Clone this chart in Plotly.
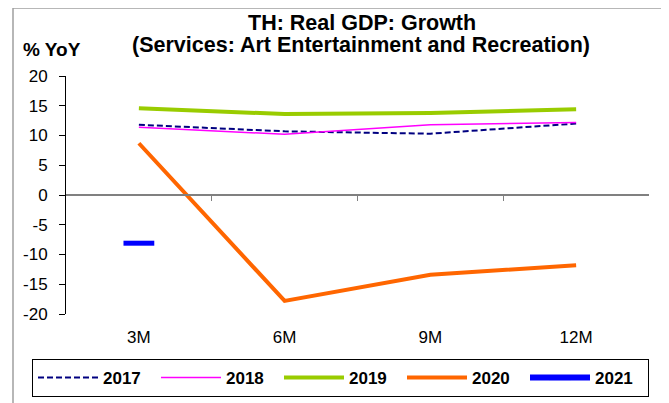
import plotly.graph_objects as go

categories = ["3M", "6M", "9M", "12M"]
y2017 = [11.8, 10.7, 10.3, 12.0]
y2018 = [11.4, 10.2, 11.8, 12.2]
y2019 = [14.6, 13.6, 13.8, 14.4]
y2020 = [8.7, -17.8, -13.4, -11.8]
cat2021 = ["3M"]
y2021 = [-8.1]
yticks = [20, 15, 10, 5, 0, -5, -10, -15, -20]
ytext = ["20", "15", "10", "5", "0", "-5", "-10", "-15", "-20"]

# page body has an 8px default margin; size the figure to fit the window
O = 8
W, H = 669 - O, 403 - O
PL, PR, PT, PB = 66, 649, 76, 314  # plot area in window pixels
L, T = PL - O, PT - O
R, B = W - (PR - O), H - (PB - O)
pw, ph = PR - PL, PB - PT

def px(x):
    return (x - PL) / pw

def py(y):
    return (PB - y) / ph

fig = go.Figure()
fig.add_trace(go.Scatter(x=categories, y=y2017, name="<b>2017</b>", mode="lines",
                         line=dict(color="#000080", width=2, dash="6px,3px")))
fig.add_trace(go.Scatter(x=categories, y=y2018, name="<b>2018</b>", mode="lines",
                         line=dict(color="#FF00FF", width=1.5)))
fig.add_trace(go.Scatter(x=categories, y=y2019, name="<b>2019</b>", mode="lines",
                         line=dict(color="#99CC00", width=4)))
fig.add_trace(go.Scatter(x=categories, y=y2020, name="<b>2020</b>", mode="lines",
                         line=dict(color="#FF6600", width=4)))
fig.add_trace(go.Scatter(x=cat2021, y=y2021, name="<b>2021</b>", mode="lines+markers",
                         line=dict(color="#0000FF", width=6),
                         marker=dict(symbol="line-ew", size=22, color="#0000FF",
                                     line=dict(color="#0000FF", width=5))))
# helper invisible trace on overlay axis for the zero-line category ticks
fig.add_trace(go.Scatter(x=[0.5], y=[0], xaxis="x2", mode="markers",
                         marker=dict(opacity=0), showlegend=False, hoverinfo="skip"))

font = "Liberation Sans, Arial, sans-serif"

fig.update_layout(
    width=W, height=H,
    margin=dict(l=L, r=R, t=T, b=B, autoexpand=False),
    paper_bgcolor="white", plot_bgcolor="white",
    font=dict(family=font, size=17, color="black"),
    showlegend=True,
    xaxis=dict(type="category", range=[-0.5, 3.5], showgrid=False, showline=False,
               zeroline=False, ticks="outside", ticklen=8, tickcolor="rgba(0,0,0,0)",
               tickfont=dict(size=17)),
    xaxis2=dict(overlaying="x", anchor="free", position=0.5, range=[-0.5, 3.5],
                showline=True, linecolor="#808080", linewidth=1.5,
                ticks="outside", ticklen=5, tickcolor="#808080", tickwidth=1,
                tickvals=[0.5, 1.5, 2.5], showticklabels=False, showgrid=False,
                zeroline=False),
    yaxis=dict(range=[-20, 20], tickvals=yticks, ticktext=ytext, showgrid=False,
               zeroline=False, showline=True, linecolor="black", linewidth=1,
               ticks="outside", ticklen=6, tickcolor="black", ticklabelstandoff=8,
               tickfont=dict(size=17)),
    legend=dict(orientation="h", x=px(32), y=py(359), xanchor="left", yanchor="top",
                bordercolor="black", borderwidth=1, bgcolor="white",
                font=dict(size=17, family=font, color="black"),
                itemwidth=60, entrywidth=48, tracegroupgap=0),
    shapes=[dict(type="rect", xref="paper", yref="paper",
                 x0=px(13), x1=px(662), y0=py(420), y1=py(8),
                 line=dict(color="#A0A0A0", width=1.5), layer="below")],
    annotations=[
        dict(text="<b>TH: Real GDP: Growth</b>", xref="paper", yref="paper",
             x=px(362), y=py(23.5), xanchor="center", yanchor="middle",
             showarrow=False, font=dict(size=21.5)),
        dict(text="<b>(Services: Art Entertainment and Recreation)</b>", xref="paper",
             yref="paper", x=px(361), y=py(45), xanchor="center", yanchor="middle",
             showarrow=False, font=dict(size=21.5)),
        dict(text="<b>% YoY</b>", xref="paper", yref="paper", x=px(52), y=py(50),
             xanchor="center", yanchor="middle", showarrow=False, font=dict(size=19)),
    ],
)
fig.write_html("out.html")
